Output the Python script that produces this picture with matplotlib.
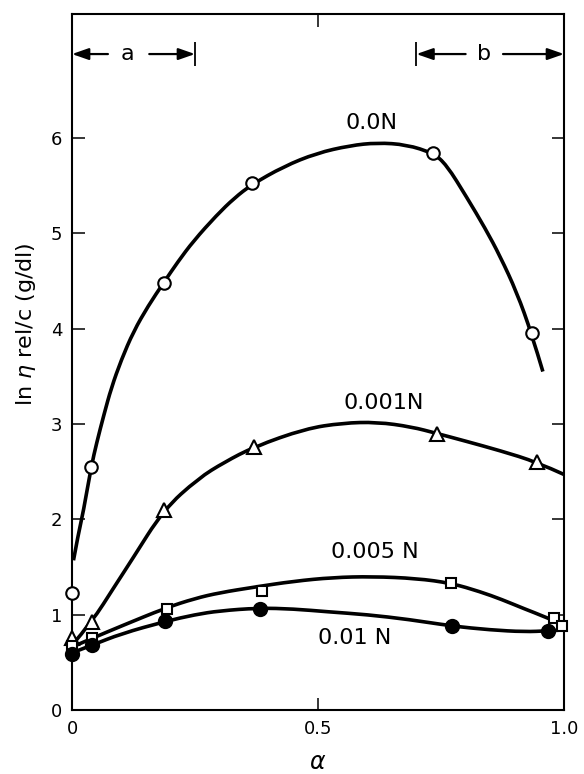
import matplotlib
matplotlib.use("Agg")
import matplotlib.pyplot as plt
from matplotlib.path import Path
from matplotlib.patches import PathPatch

plt.rcParams['font.family'] = ['DejaVu Sans']

# measured points (alpha, ln eta_rel / c)
c00_x = [0.0, 0.039, 0.186, 0.365, 0.734, 0.934]
c00_y = [1.23, 2.55, 4.48, 5.53, 5.84, 3.95]
c001_x = [0.0, 0.04, 0.186, 0.37, 0.742, 0.945]
c001_y = [0.75, 0.92, 2.10, 2.76, 2.90, 2.60]
c005_x = [0.0, 0.041, 0.194, 0.386, 0.771, 0.98, 0.995]
c005_y = [0.67, 0.75, 1.06, 1.25, 1.33, 0.97, 0.88]
c01_x = [0.0, 0.041, 0.19, 0.382, 0.773, 0.967]
c01_y = [0.59, 0.68, 0.93, 1.06, 0.88, 0.83]

# hand-drawn curves
f00_x = [0.003, 0.013, 0.023, 0.039, 0.05, 0.065, 0.08, 0.1, 0.125, 0.155, 0.186,
         0.215, 0.247, 0.294, 0.33, 0.365, 0.43, 0.497, 0.565, 0.62, 0.68, 0.734,
         0.761, 0.802, 0.84, 0.87, 0.904, 0.934, 0.957]
f00_y = [1.57, 1.85, 2.08, 2.55, 2.8, 3.1, 3.38, 3.67, 3.97, 4.24, 4.48,
         4.7, 4.92, 5.19, 5.37, 5.51, 5.7, 5.84, 5.92, 5.95, 5.93, 5.84,
         5.72, 5.38, 5.05, 4.76, 4.38, 3.95, 3.55]
f001_x = [0.0, 0.04, 0.087, 0.121, 0.186, 0.257, 0.31, 0.37, 0.474, 0.55, 0.62,
          0.69, 0.742, 0.8, 0.87, 0.945, 1.0]
f001_y = [0.68, 0.92, 1.30, 1.57, 2.10, 2.43, 2.6, 2.76, 2.95, 3.01, 3.02,
          2.97, 2.9, 2.82, 2.72, 2.6, 2.47]
f005_x = [0.0, 0.04, 0.1, 0.19, 0.25, 0.3, 0.372, 0.45, 0.53, 0.61, 0.7, 0.771,
          0.83, 0.873, 0.92, 0.96, 1.0]
f005_y = [0.66, 0.75, 0.88, 1.07, 1.17, 1.23, 1.29, 1.35, 1.39, 1.40, 1.38, 1.33,
          1.24, 1.16, 1.06, 0.98, 0.89]
f01_x = [0.0, 0.041, 0.1, 0.19, 0.25, 0.3, 0.379, 0.45, 0.52, 0.6, 0.684, 0.773,
         0.85, 0.92, 0.967, 1.0]
f01_y = [0.6, 0.68, 0.8, 0.93, 1.0, 1.04, 1.07, 1.06, 1.03, 1.0, 0.95, 0.88,
         0.84, 0.82, 0.83, 0.84]

yticks = [0, 1, 2, 3, 4, 5, 6]
xticks = [0, 0.5, 1.0]
xticklabels = ['0', '0.5', '1.0']


def smooth_path(xs, ys):
    # quadratic bezier through midpoints, traced points used as controls
    pts = list(zip(xs, ys))
    verts = [pts[0]]
    codes = [Path.MOVETO]
    for i in range(1, len(pts) - 1):
        mid = ((pts[i][0] + pts[i + 1][0]) / 2, (pts[i][1] + pts[i + 1][1]) / 2)
        if i == len(pts) - 2:
            mid = pts[-1]
        verts += [pts[i], mid]
        codes += [Path.CURVE3, Path.CURVE3]
    return Path(verts, codes)


fig = plt.figure(figsize=(5.84, 7.74), dpi=100)
ax = fig.add_axes([0.1233, 0.0827, 0.8425, 0.8992])

lw = 2.6
for fx, fy in [(f00_x, f00_y), (f001_x, f001_y), (f005_x, f005_y), (f01_x, f01_y)]:
    ax.add_patch(PathPatch(smooth_path(fx, fy), fill=False, edgecolor='black',
                           lw=lw, capstyle='butt', zorder=2))

ms = 9
ax.plot(c00_x, c00_y, 'o', ms=ms, mfc='white', mec='black', mew=1.5, clip_on=False, zorder=3)
ax.plot(c001_x, c001_y, '^', ms=ms + 1, mfc='white', mec='black', mew=1.5, clip_on=False, zorder=3)
ax.plot(c005_x, c005_y, 's', ms=ms - 1.5, mfc='white', mec='black', mew=1.5, clip_on=False, zorder=3)
ax.plot(c01_x, c01_y, 'o', ms=ms + 0.5, mfc='black', mec='black', mew=1.5, clip_on=False, zorder=4)

ax.set_xlim(0, 1.0)
ax.set_ylim(0, 7.3)
ax.set_yticks(yticks)
ax.set_yticklabels([str(v) for v in yticks])
ax.set_xticks(xticks)
ax.set_xticklabels(xticklabels)
ax.tick_params(direction='in', length=9, width=1.1, labelsize=13, pad=7,
               top=True, right=True)
for s in ax.spines.values():
    s.set_linewidth(1.5)

ax.set_xlabel(r'$\alpha$', fontsize=17, va='center')
ax.xaxis.set_label_coords(0.5, -0.075)
ax.set_ylabel(r'ln $\eta$ rel/c (g/dl)', fontsize=16)
ax.yaxis.set_label_coords(-0.07, 0.555)

ax.text(0.609, 6.16, '0.0N', fontsize=16, ha='center', va='center')
ax.text(0.633, 3.22, '0.001N', fontsize=16, ha='center', va='center')
ax.text(0.616, 1.66, '0.005 N', fontsize=16, ha='center', va='center')
ax.text(0.574, 0.76, '0.01 N', fontsize=16, ha='center', va='center')

# range brackets a and b
ya = 6.88
ap = dict(arrowstyle='-|>,head_length=1.0,head_width=0.35', color='black', lw=1.6,
          shrinkA=0, shrinkB=0)
ax.annotate('', xy=(0.0, ya), xytext=(0.073, ya), arrowprops=ap)
ax.annotate('', xy=(0.25, ya), xytext=(0.157, ya), arrowprops=ap)
ax.text(0.112, ya, 'a', fontsize=16, ha='center', va='center')
ax.vlines(0.25, ya - 0.13, ya + 0.13, color='black', lw=1.3)
ax.annotate('', xy=(0.70, ya), xytext=(0.80, ya), arrowprops=ap)
ax.annotate('', xy=(1.0, ya), xytext=(0.876, ya), arrowprops=ap)
ax.text(0.838, ya, 'b', fontsize=16, ha='center', va='center')
ax.vlines(0.70, ya - 0.13, ya + 0.13, color='black', lw=1.3)

fig.savefig('out.png', dpi=100)
